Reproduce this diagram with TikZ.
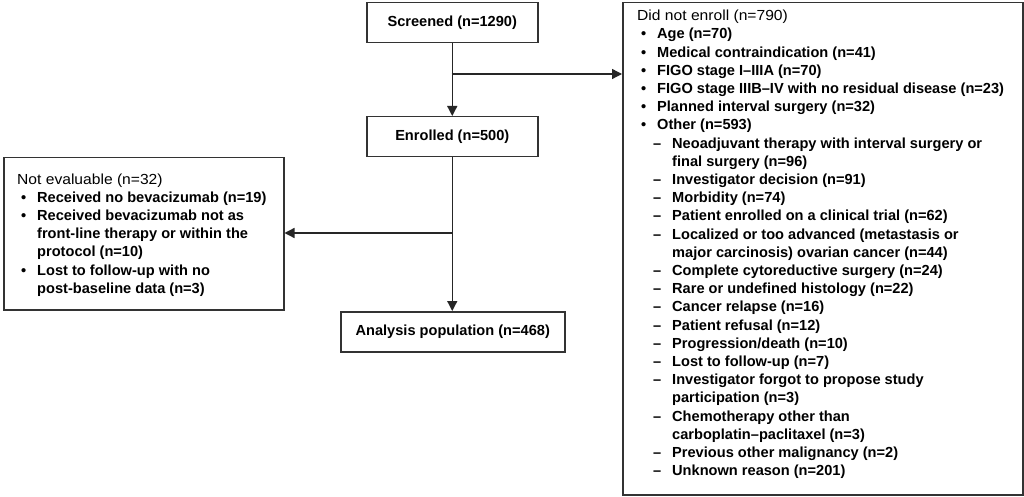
\documentclass[tikz,border=0pt]{standalone}
\usepackage{fontspec}
\setmainfont{Liberation Sans}
\usetikzlibrary{arrows.meta}
\newcommand{\myhead}[1]{\scalebox{1.07}[1]{#1}}
\newcommand{\mybul}[1]{\hspace*{4pt}\makebox[16pt][l]{\textbf{•}}\textbf{#1}}
\newcommand{\mybulc}[1]{\hspace*{20pt}\textbf{#1}}
\newcommand{\mydash}[1]{\hspace*{16pt}\makebox[19pt][l]{\textbf{–}}\textbf{#1}}
\newcommand{\mydashc}[1]{\hspace*{35pt}\textbf{#1}}
\begin{document}
\begin{tikzpicture}[x=1pt,y=-1pt,
  box/.style={draw=black!80, line width=1.5pt, inner sep=0pt, fill=white},
  arr/.style={line width=1.3pt, draw=black!85, -{Triangle[length=10pt,width=10pt]}},
  txt/.style={inner sep=0pt, align=left, font=\fontsize{14.6}{18.2}\selectfont, anchor=west},
  ttl/.style={font=\fontsize{14.6}{18.2}\selectfont\bfseries}]
\useasboundingbox[fill=white] (0,0) rectangle (1024,497);
\node[box, ttl, minimum width=171pt, minimum height=40pt, anchor=north west] (s) at (366,2) {Screened (n=1290)};
\node[box, ttl, minimum width=171pt, minimum height=40pt, anchor=north west] (e) at (366,116) {Enrolled (n=500)};
\node[box, ttl, minimum width=224pt, minimum height=40pt, anchor=north west] (a) at (340,311) {Analysis population (n=468)};
\node[box, minimum width=280pt, minimum height=152pt, anchor=north west] (l) at (3,157) {};
\node[box, minimum width=400pt, minimum height=492pt, anchor=north west] (r) at (622,2) {};
\node[txt] (ltxt) at (17,235) {\myhead{Not evaluable (n=32)}\\
\mybul{Received no bevacizumab (n=19)}\\
\mybul{Received bevacizumab not as}\\
\mybulc{front-line therapy or within the}\\
\mybulc{protocol (n=10)}\\
\mybul{Lost to follow-up with no}\\
\mybulc{post-baseline data (n=3)}};
\node[txt] (rtxt) at (637,244.5) {\myhead{Did not enroll (n=790)}\\
\mybul{Age (n=70)}\\
\mybul{Medical contraindication (n=41)}\\
\mybul{FIGO stage I–IIIA (n=70)}\\
\mybul{FIGO stage IIIB–IV with no residual disease (n=23)}\\
\mybul{Planned interval surgery (n=32)}\\
\mybul{Other (n=593)}\\
\mydash{Neoadjuvant therapy with interval surgery or}\\
\mydashc{final surgery (n=96)}\\
\mydash{Investigator decision (n=91)}\\
\mydash{Morbidity (n=74)}\\
\mydash{Patient enrolled on a clinical trial (n=62)}\\
\mydash{Localized or too advanced (metastasis or}\\
\mydashc{major carcinosis) ovarian cancer (n=44)}\\
\mydash{Complete cytoreductive surgery (n=24)}\\
\mydash{Rare or undefined histology (n=22)}\\
\mydash{Cancer relapse (n=16)}\\
\mydash{Patient refusal (n=12)}\\
\mydash{Progression/death (n=10)}\\
\mydash{Lost to follow-up (n=7)}\\
\mydash{Investigator forgot to propose study}\\
\mydashc{participation (n=3)}\\
\mydash{Chemotherapy other than}\\
\mydashc{carboplatin–paclitaxel (n=3)}\\
\mydash{Previous other malignancy (n=2)}\\
\mydash{Unknown reason (n=201)}};
\coordinate (b1) at (451.5,74);
\coordinate (b2) at (451.5,233);
\draw[arr] (s.south) -- (e.north);
\draw[arr] (b1) -- (b1 -| r.west);
\draw[arr] (e.south) -- (e.south |- a.north);
\draw[arr] (b2) -- (b2 -| l.east);
\end{tikzpicture}
\end{document}
